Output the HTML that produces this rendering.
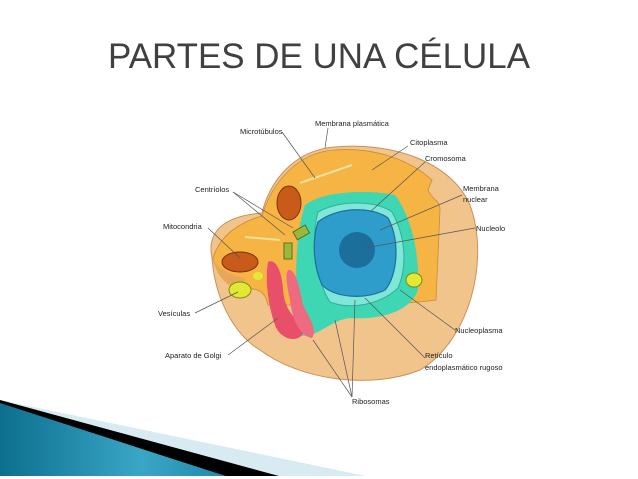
<!DOCTYPE html>
<html><head><meta charset="utf-8"><style>
html,body{margin:0;padding:0;background:#fff;width:638px;height:479px;overflow:hidden}
svg{display:block}
</style></head><body>
<svg width="638" height="479" viewBox="0 0 638 479" xmlns="http://www.w3.org/2000/svg" font-family="Liberation Sans, sans-serif">
<text x="319" y="68" text-anchor="middle" font-size="35" fill="#404040" textLength="422" lengthAdjust="spacingAndGlyphs">PARTES DE UNA CÉLULA</text>

<!-- bottom decoration -->
<defs>
<linearGradient id="bl" x1="0" y1="0" x2="1" y2="0">
<stop offset="0" stop-color="#0d6f8e"/><stop offset="0.6" stop-color="#3aa6c6"/><stop offset="1" stop-color="#1f86a6"/></linearGradient>
</defs>
<polygon points="0,400 380,479 0,479" fill="#d8ebf2"/>
<polygon points="0,400 290,479 0,479" fill="#000"/>
<polygon points="0,403 235,479 0,479" fill="url(#bl)"/>
<rect x="0" y="476" width="638" height="3" fill="#fff"/>

<!-- cell lower body -->
<path d="M212,258 C205,225 235,215 262,213 C270,180 295,150 335,147 C390,142 450,160 470,205 C490,260 470,340 420,370 C370,390 300,380 260,350 C235,335 215,300 212,258 Z" fill="#f1c48c" stroke="#c9915a" stroke-width="1"/>
<!-- top face -->
<path d="M213,258 C220,235 240,222 262,216 C272,182 298,152 335,150 C375,147 410,160 432,180 L428,190 C432,200 440,200 440,210 L436,300 C400,305 330,307 300,305 L268,305 C265,290 255,287 245,290 C230,285 216,275 213,258 Z" fill="#f6b444" stroke="#c98a3a" stroke-width="0.8"/>
<path d="M213,258 C216,268 230,275 245,278 L243,292 C230,288 216,278 213,258Z" fill="#e8a758"/>
<!-- ER teal -->
<path d="M305,205 C325,190 370,190 395,195 C410,215 420,250 418,290 C410,312 380,320 350,318 C330,320 315,340 300,335 C295,300 293,240 305,205 Z" fill="#3fd6b4"/>
<path d="M318,212 C340,200 375,200 392,212 C405,235 408,265 398,288 C380,305 350,310 330,302 C318,285 310,240 318,212 Z" fill="#7fe6d8" stroke="#2eb09a" stroke-width="1"/>
<!-- nucleus -->
<path d="M318,222 C335,208 370,205 388,218 C400,240 398,275 385,290 C365,300 335,298 322,285 C313,265 312,240 318,222 Z" fill="#2e9dcc" stroke="#1c6f9a" stroke-width="1.2"/>
<circle cx="357" cy="250" r="18" fill="#1b6f9a"/>
<!-- golgi -->
<path d="M268,262 C275,258 282,270 283,290 C285,315 300,320 305,330 C300,345 280,340 275,325 C268,305 265,280 268,262 Z" fill="#e8506a"/>
<path d="M288,270 C296,268 300,290 303,305 C310,320 318,330 312,338 C300,336 292,320 290,300 C287,285 285,275 288,270Z" fill="#ee6a80"/>
<!-- mitochondria -->
<ellipse cx="289" cy="203" rx="12" ry="17" fill="#c85a1a" stroke="#7a3010"/>
<ellipse cx="240" cy="262" rx="18" ry="10" fill="#c85a1a" stroke="#7a3010"/>
<!-- centrioles -->
<rect x="294" y="228" width="14" height="9" fill="#9cb83a" stroke="#5a7020" transform="rotate(-30 301 232)"/>
<rect x="284" y="243" width="8" height="16" fill="#9cb83a" stroke="#5a7020"/>
<!-- vesicles -->
<ellipse cx="240" cy="290" rx="11" ry="8" fill="#e3e834" stroke="#7a8a10"/>
<ellipse cx="258" cy="276" rx="5" ry="4" fill="#e3e834"/>
<ellipse cx="414" cy="280" rx="8" ry="7" fill="#e3e834" stroke="#7a8a10"/>
<!-- microtubules -->
<line x1="300" y1="183" x2="352" y2="165" stroke="#e8e0a0" stroke-width="2"/>
<line x1="245" y1="237" x2="280" y2="240" stroke="#e8e0a0" stroke-width="2"/>

<g stroke="#555" stroke-width="0.7" fill="none">
<line x1="282" y1="132" x2="315" y2="178"/>
<line x1="328" y1="128" x2="325" y2="148"/>
<line x1="408" y1="146" x2="372" y2="170"/>
<line x1="425" y1="162" x2="370" y2="212"/>
<line x1="462" y1="195" x2="380" y2="230"/>
<line x1="475" y1="228" x2="365" y2="248"/>
<line x1="233" y1="192" x2="285" y2="235"/>
<line x1="233" y1="192" x2="293" y2="228"/>
<line x1="208" y1="228" x2="240" y2="258"/>
<line x1="195" y1="313" x2="238" y2="292"/>
<line x1="455" y1="330" x2="400" y2="290"/>
<line x1="228" y1="355" x2="278" y2="318"/>
<line x1="425" y1="358" x2="365" y2="298"/>
<line x1="352" y1="397" x2="313" y2="340"/>
<line x1="352" y1="397" x2="335" y2="320"/>
<line x1="352" y1="397" x2="355" y2="300"/>
</g>
<g font-size="7.5" fill="#222">
<text x="315" y="126">Membrana plasmática</text>
<text x="240" y="134">Microtúbulos</text>
<text x="410" y="145">Citoplasma</text>
<text x="425" y="161">Cromosoma</text>
<text x="463" y="191">Membrana</text>
<text x="463" y="202">nuclear</text>
<text x="195" y="192">Centríolos</text>
<text x="163" y="229">Mitocondria</text>
<text x="476" y="231">Nucleolo</text>
<text x="158" y="316">Vesículas</text>
<text x="455" y="333">Nucleoplasma</text>
<text x="165" y="358">Aparato de Golgi</text>
<text x="425" y="358">Retículo</text>
<text x="425" y="370">endoplasmático rugoso</text>
<text x="352" y="404">Ribosomas</text>
</g>
</svg>
</body></html>
